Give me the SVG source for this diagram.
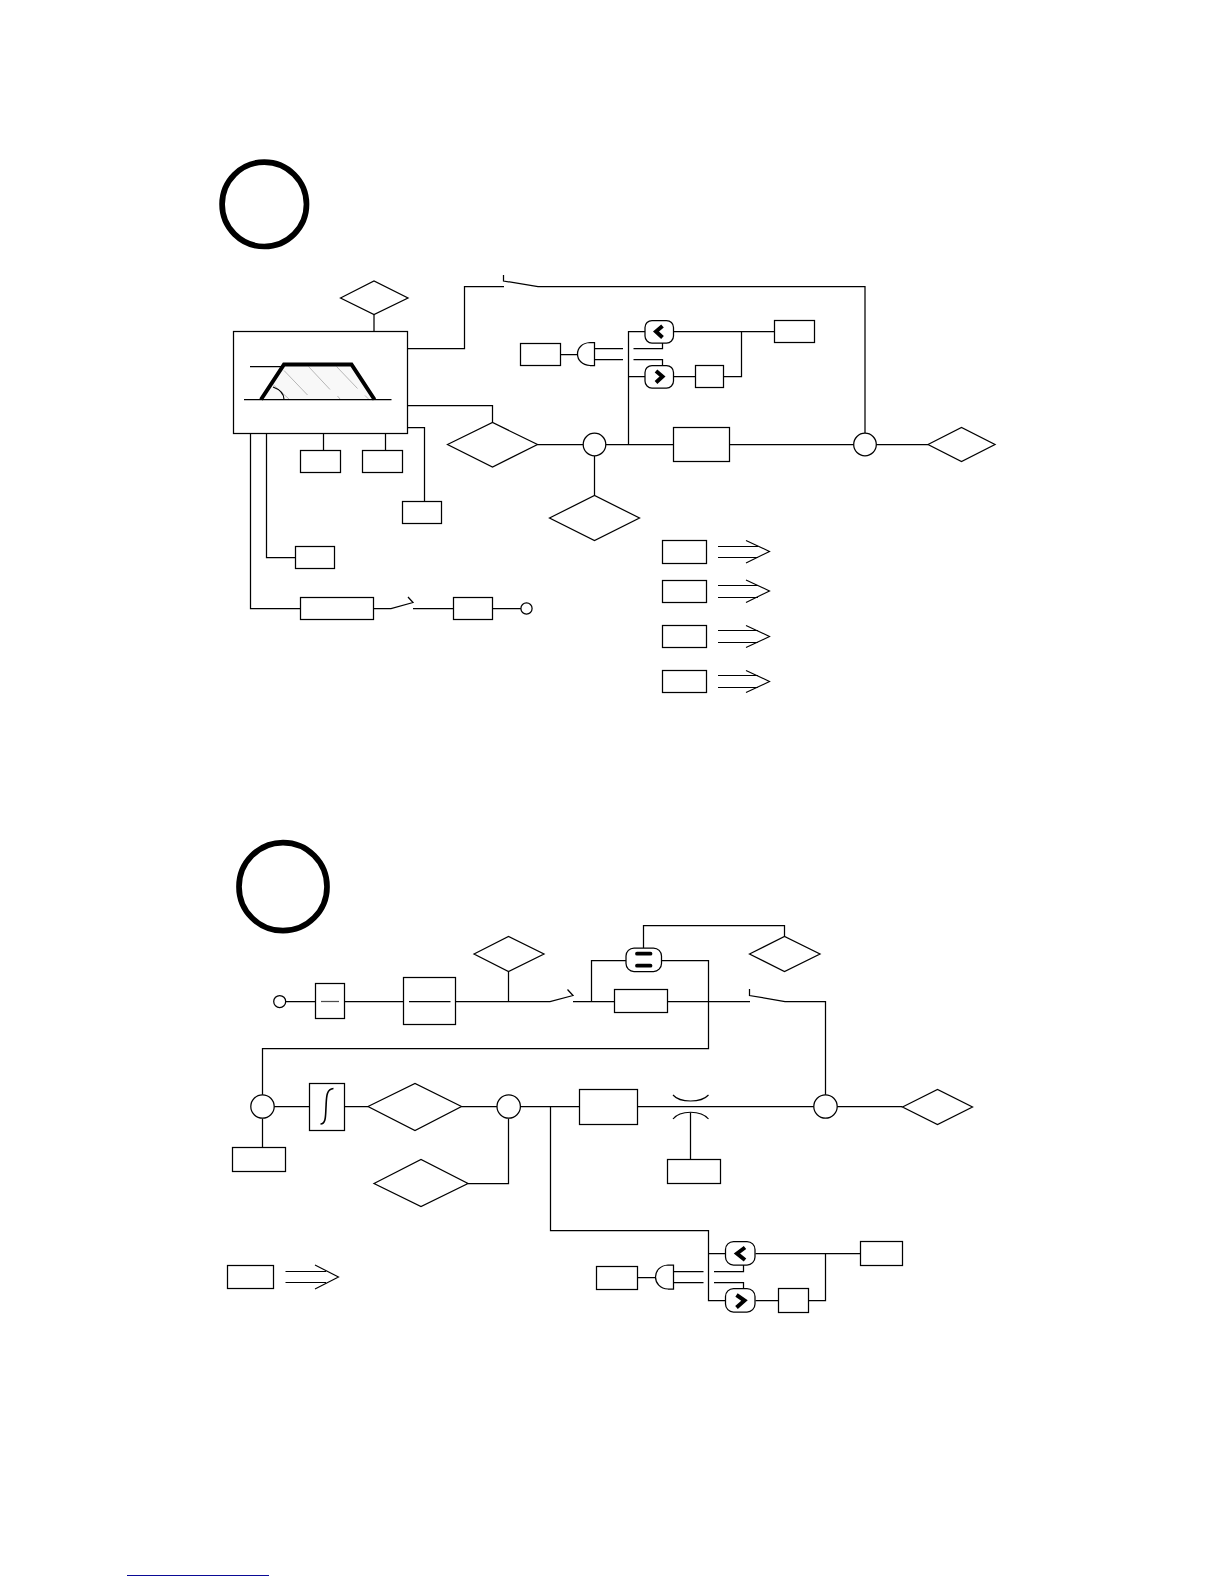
<svg xmlns="http://www.w3.org/2000/svg" width="1224" height="1584" viewBox="0 0 1224 1584">
<style>
.s{fill:#fff;stroke:#000;stroke-width:1.25}
.w{fill:none;stroke:#000;stroke-width:1.25;stroke-linejoin:miter}
.a{fill:none;stroke:#000;stroke-width:1.15}
.big{fill:#fff;stroke:#000;stroke-width:5.7}
.chev{fill:none;stroke:#000;stroke-width:4;stroke-linecap:butt;stroke-linejoin:miter}
.bar{stroke:#000;stroke-width:3.8;stroke-linecap:round}
.h{fill:none;stroke:#999;stroke-width:.7}
</style>
<rect width="1224" height="1584" fill="#fff"/>
<g id="connectors">
<path class="w" d="M374 314.5V331.5M407.5 348.5H464.5V286.5H504M503.5 275V281L538 286.500H865V433"/>
<path class="w" d="M407.500 405.500H492.500V422.500M537.500 444.500H583M594.500 456V495.500M605.500 444.500H673.500M729.500 444.500H854M876 444.500H928"/>
<path class="w" d="M628.500 444.500V331.500H645M628.500 376.500H645M673.500 331.500H774.500M741.500 331.500V376.500H723.500M673.500 376.500H695.500"/>
<path class="w" d="M560.500 354.500H577.500M594.500 348.500H623M594.500 359.500H623M633.500 348.500H662.500V342.500M633.500 359.500H662.500V365.500"/>
<path class="w" d="M323.500 433.500V450.500M385.500 433.500V450.500M407.500 427.500H424.500V501.500M266.500 433.500V557.500H295.500M250.500 433.500V608.500H300.500M373.500 608.500H391L413 602.500L408 597M413 608.500H453.500M492.500 608.500H521"/>
<path class="w" d="M285.500 1001.500H315.500M344.500 1001.500H403.500M455.500 1001.500H550L573 995.500L567.500 989.500M508.500 971.500V1001.500M573 1001.500H614.500M591.500 1001.500V960.500H626"/>
<path class="w" d="M661.500 960.500H708.500V1048.500H262.500V1095M643.500 948V925.500H784.500V936.500M667.500 1001.500H750M749.500 989V995.500L785 1001.500H825.500V1095"/>
<path class="w" d="M274 1106.500H309.500M344.500 1106.500H368M461.500 1106.500H497M520.500 1106.500H579.500M508.500 1118.500V1183.500H468M262.500 1118.500V1147.500M637.500 1106.500H814M837 1106.500H902.500M690.500 1112.500V1159.500"/>
<path class="w" d="M550.500 1106.500V1230.500H708.500V1300.500H725.500M708.500 1253.500H725.500M755.500 1253.500H860.500M825.500 1253.500V1300.500H808.500M755.500 1300.500H778.500"/>
<path class="w" d="M637.500 1277.500H655.500M673.500 1271.500H703.500M673.500 1282.500H703.500M714 1271.500H743.500V1265M714 1282.500H743.500V1288.500"/>
<path class="a" d="M673 1095C680 1103 701 1103 708.500 1095M673 1119C680 1110 701 1110 708.500 1119"/>
<path class="a" d="M718 546.500H758M718 557.500H758M746 540.500L769.500 551.500L746 563"/>
<path class="a" d="M718 585.500H758M718 597.500H758M746 580L769.500 591L746 602.500"/>
<path class="a" d="M718 630.500H758M718 642.500H758M746 625.500L769.500 636.500L746 647.500"/>
<path class="a" d="M718 675.500H758M718 687.500H758M746 670.500L769.500 681.500L746 692.500"/>
<path class="a" d="M285.500 1271.500H326M285.500 1282.500H326M315 1265L338.500 1277L315 1289"/>
</g>
<g id="circle-a"><circle class="big" cx="264.300" cy="204.300" r="42.200"/></g>
<g id="circle-b"><circle class="big" cx="283" cy="886.700" r="44"/></g>
<g id="block-main">
<rect class="s" x="233.500" y="331.500" width="174" height="102"/>
<polygon points="284,364.500 351.500,364.500 374.500,399.500 261,399.500" fill="#f8f8f8"/>
<path class="h" d="M284 370.500L307.500 395M308.500 366.500L330 389.500M336.500 366.500L357.500 388.500M337.500 396L340 399M365 395.500L368.500 399M273.500 385L289.500 399.500"/>
<path class="w" d="M250 366.500H284M244 399.500H391.500M273 387Q284 391 284 399.500"/>
<path fill="none" stroke="#000" stroke-width="4" d="M261 399.500L284 364.500H351.500L374.500 399.500"/>
</g>
<g id="d1"><polygon class="s" points="340.500,298 374,281 408,298 374,314.500"/></g>
<g id="d2"><polygon class="s" points="447.500,444.500 492.500,422.500 537.500,444.500 492.500,467"/></g>
<g id="d3"><polygon class="s" points="549.500,518 594.500,495.500 639.500,518 594.500,540.500"/></g>
<g id="d4"><polygon class="s" points="928,444.500 961.500,427.500 995,444.500 961.500,461.500"/></g>
<g id="j1"><circle class="s" cx="594.500" cy="444.500" r="11.300"/></g>
<g id="j2"><circle class="s" cx="865" cy="444.500" r="11.300"/></g>
<g id="t1"><circle class="s" cx="526.500" cy="608.500" r="5.600"/></g>
<g id="b1"><rect class="s" x="300.500" y="450.500" width="40" height="22"/></g>
<g id="b2"><rect class="s" x="362.500" y="450.500" width="40" height="22"/></g>
<g id="b3"><rect class="s" x="402.500" y="501.500" width="39" height="22"/></g>
<g id="b4"><rect class="s" x="295.500" y="546.500" width="39" height="22"/></g>
<g id="b5"><rect class="s" x="300.500" y="597.500" width="73" height="22"/></g>
<g id="b6"><rect class="s" x="453.500" y="597.500" width="39" height="22"/></g>
<g id="b7"><rect class="s" x="520.500" y="343.500" width="40" height="22"/></g>
<g id="b8"><rect class="s" x="774.500" y="320.500" width="40" height="22"/></g>
<g id="b9"><rect class="s" x="695.500" y="365.500" width="28" height="22"/></g>
<g id="b10"><rect class="s" x="673.500" y="427.500" width="56" height="34"/></g>
<g id="gate1"><path class="s" d="M594.500 342.500H590C582 343 577.500 348 577.500 354C577.500 360 582 365 590 365.500H594.500Z"/></g>
<g id="lt1"><rect class="s" x="645" y="320.500" width="28.500" height="22.500" rx="7"/><path class="chev" d="M662.500 326L656 331.500L662.500 337.500"/></g>
<g id="gt1"><rect class="s" x="645" y="365.500" width="28.500" height="22.500" rx="7"/><path class="chev" d="M656 371L662.500 376.500L656 382.500"/></g>
<g id="l1"><rect class="s" x="662.500" y="540.500" width="44" height="23"/></g>
<g id="l2"><rect class="s" x="662.500" y="580.500" width="44" height="22"/></g>
<g id="l3"><rect class="s" x="662.500" y="625.500" width="44" height="22"/></g>
<g id="l4"><rect class="s" x="662.500" y="670.500" width="44" height="22"/></g>
<g id="t2"><circle class="s" cx="279.700" cy="1001.500" r="6"/></g>
<g id="b11"><rect class="s" x="315.500" y="983.500" width="29" height="35"/><path class="w" d="M321 1001.500H339" stroke-opacity=".7"/></g>
<g id="b12"><rect class="s" x="403.500" y="977.500" width="52" height="47"/><path class="w" d="M409 1001.500H450.500"/></g>
<g id="d5"><polygon class="s" points="474,954 508.500,936.500 544,954 508.500,971.500"/></g>
<g id="d6"><polygon class="s" points="749.500,954 784.500,936.500 820,954 784.500,971.500"/></g>
<g id="eq"><rect class="s" x="626" y="948" width="35.500" height="23.500" rx="8"/><path class="bar" d="M637 953.700H650.500M637 965.700H650.500"/></g>
<g id="b13"><rect class="s" x="614.500" y="989.500" width="53" height="23"/></g>
<g id="j3"><circle class="s" cx="262.500" cy="1106.500" r="11.700"/></g>
<g id="int"><rect class="s" x="309.500" y="1083.500" width="35" height="47"/><path fill="none" stroke="#000" stroke-width="1.600" d="M333.500 1088.500C326 1089 326.500 1098 326 1107C325.500 1116 326 1124 320.500 1124"/></g>
<g id="d7"><polygon class="s" points="368,1106.500 415,1083.500 461.500,1106.500 415,1130.500"/></g>
<g id="j4"><circle class="s" cx="508.700" cy="1106.500" r="11.700"/></g>
<g id="d8"><polygon class="s" points="374,1183.500 421,1159.500 468,1183.500 421,1206.500"/></g>
<g id="b14"><rect class="s" x="232.500" y="1147.500" width="53" height="24"/></g>
<g id="b15"><rect class="s" x="579.500" y="1089.500" width="58" height="35"/></g>
<g id="b16"><rect class="s" x="667.500" y="1159.500" width="53" height="24"/></g>
<g id="j5"><circle class="s" cx="825.500" cy="1106.500" r="11.700"/></g>
<g id="d9"><polygon class="s" points="902.500,1107 937.500,1089.500 972.500,1107 937.500,1124.500"/></g>
<g id="lt2"><rect class="s" x="725.500" y="1241.500" width="29.500" height="23.500" rx="8"/><path class="chev" d="M745 1247.500L737 1253.500L745 1260"/></g>
<g id="gt2"><rect class="s" x="725.500" y="1288.500" width="29.500" height="23.500" rx="8"/><path class="chev" d="M736.500 1295L744.500 1300.500L736.500 1307.500"/></g>
<g id="b17"><rect class="s" x="860.500" y="1241.500" width="42" height="24"/></g>
<g id="b18"><rect class="s" x="778.500" y="1288.500" width="30" height="24"/></g>
<g id="b19"><rect class="s" x="596.500" y="1266.500" width="41" height="23"/></g>
<g id="gate2"><path class="s" d="M673.500 1265H668C660 1265.500 655.500 1271 655.500 1277C655.500 1283 660 1288.500 668 1289H673.500Z"/></g>
<g id="l5"><rect class="s" x="227.500" y="1265.500" width="46" height="23"/></g>
<path d="M127 1575.500H269" fill="none" stroke="#0a0a96" stroke-width="1"/>
</svg>
